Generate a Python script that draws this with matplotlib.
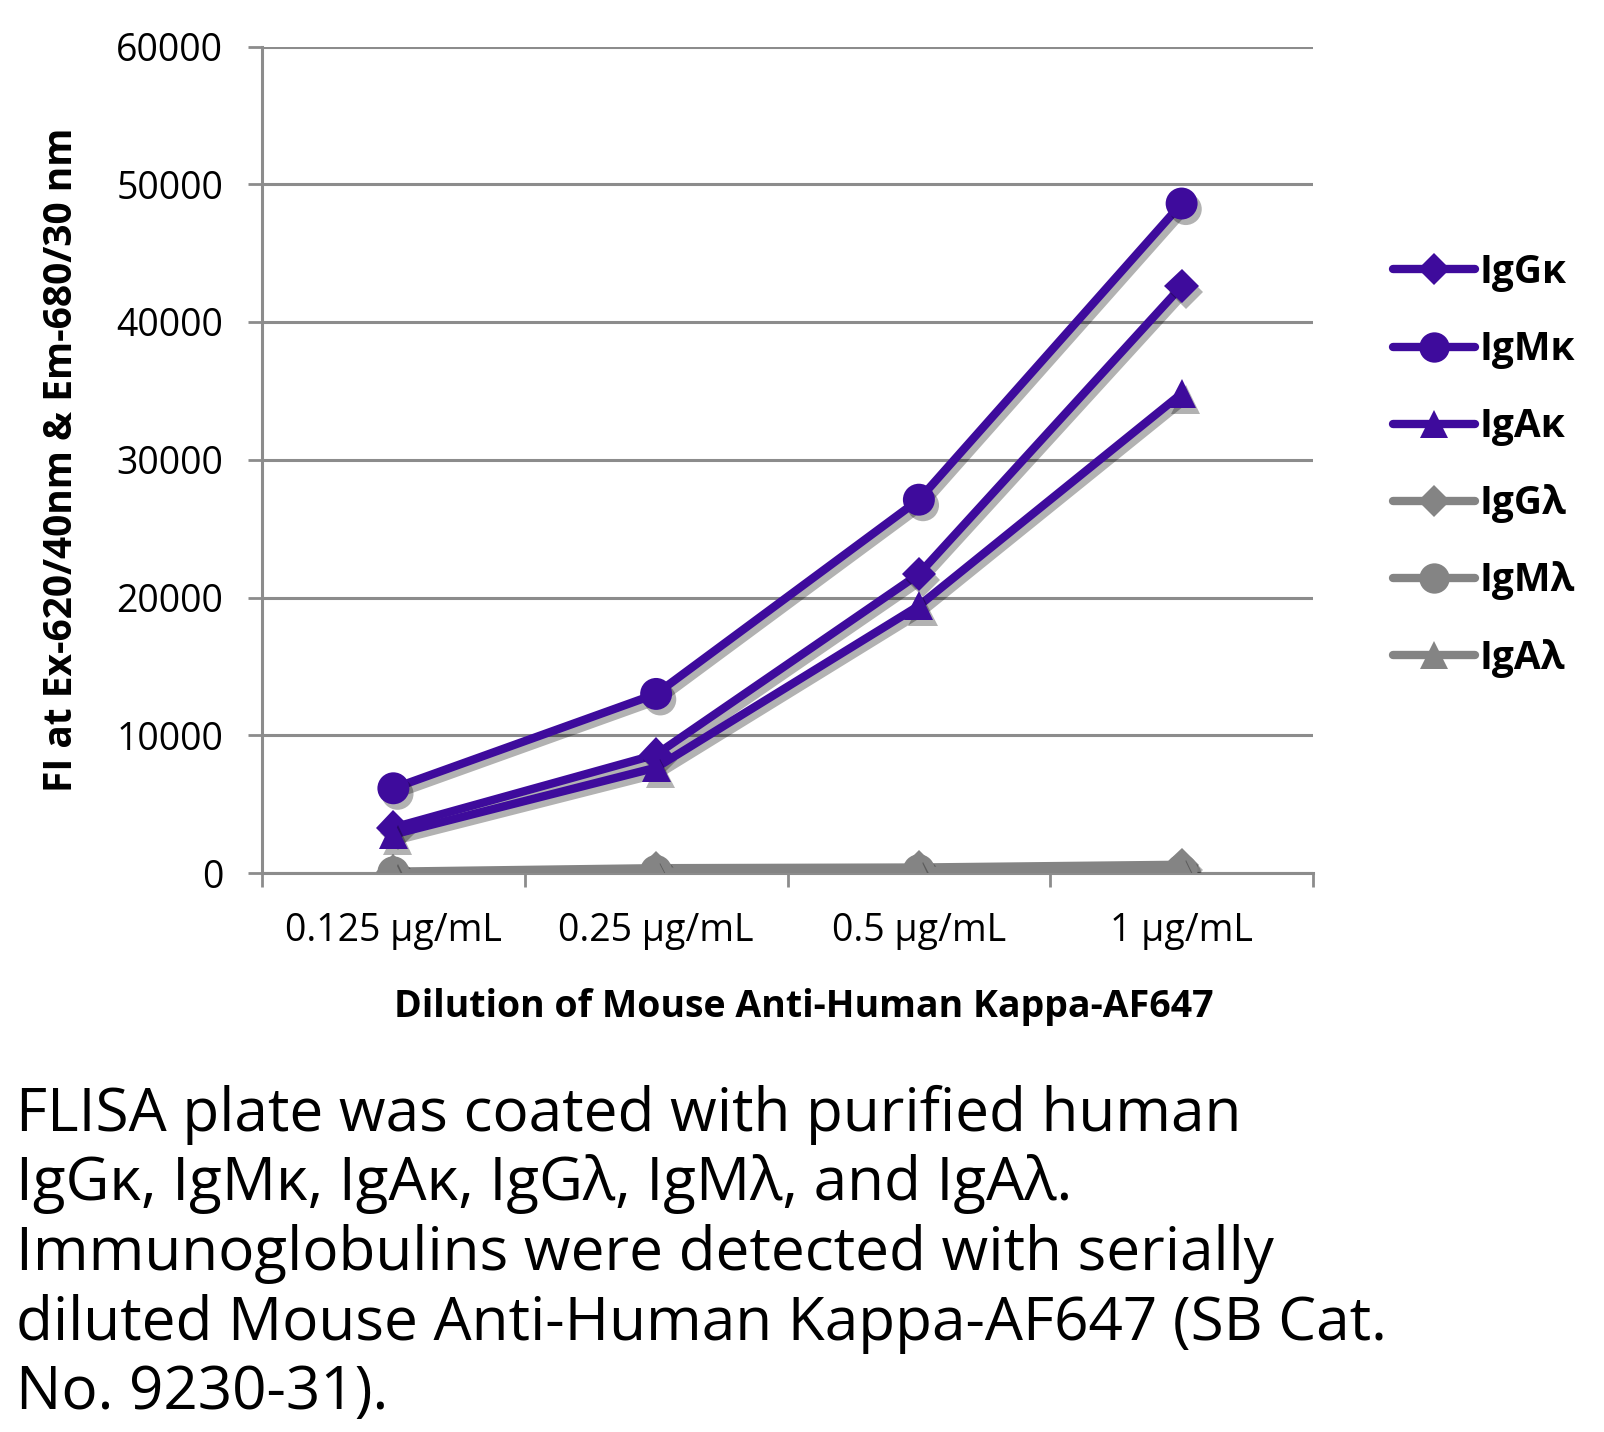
import matplotlib
matplotlib.use("Agg")
import matplotlib.pyplot as plt
import matplotlib.patheffects as pe
from matplotlib.lines import Line2D
import numpy as np

plt.rcParams['font.family'] = ['Open Sans', 'DejaVu Sans']

categories = ['0.125 µg/mL', '0.25 µg/mL', '0.5 µg/mL', '1 µg/mL']
series_names = ['IgGκ', 'IgMκ', 'IgAκ', 'IgGλ', 'IgMλ', 'IgAλ']
igg_k = [3300, 8600, 21700, 42600]
igm_k = [6150, 13000, 27100, 48600]
iga_k = [2800, 7650, 19400, 34800]
igg_l = [100, 350, 400, 600]
igm_l = [50, 150, 200, 200]
iga_l = [0, 100, 150, 300]
values = [igg_k, igm_k, iga_k, igg_l, igm_l, iga_l]
markers = ['D', 'o', '^', 'D', 'o', '^']
msizes = [17.5, 23, 21, 17.5, 23, 21]
purple = '#3E0B9C'
gray = '#848484'
colors = [purple, purple, purple, gray, gray, gray]

y_ticks = [0, 10000, 20000, 30000, 40000, 50000, 60000]
x_label = 'Dilution of Mouse Anti-Human Kappa-AF647'
y_label = 'FI at Ex-620/40nm & Em-680/30 nm'
caption_lines = [
    'FLISA plate was coated with purified human',
    'IgGκ, IgMκ, IgAκ, IgGλ, IgMλ, and IgAλ.',
    'Immunoglobulins were detected with serially',
    'diluted Mouse Anti-Human Kappa-AF647 (SB Cat.',
    'No. 9230-31).',
]

W, H = 1604, 1432
fig = plt.figure(figsize=(W / 100, H / 100), dpi=100)
ax = fig.add_axes([262 / W, 1 - 873 / H, (1313 - 262) / W, (873 - 46.5) / H])

x = np.arange(len(categories))
grid_c = '#8C8C8C'

line_shadow = [pe.SimpleLineShadow(offset=(3, -4), shadow_color='k', alpha=0.3), pe.Normal()]
patch_shadow = [pe.SimplePatchShadow(offset=(3, -4), shadow_rgbFace='k', alpha=0.3), pe.Normal()]

order = [3, 4, 5, 0, 1, 2]
for z, i in enumerate(order):
    ax.plot(x, values[i], color=colors[i], lw=6, solid_capstyle='round',
            solid_joinstyle='round', zorder=3 + z, path_effects=line_shadow)
    ax.plot(x, values[i], linestyle='none', marker=markers[i], markersize=msizes[i],
            color=colors[i], markeredgewidth=0, zorder=3 + z + 0.5,
            path_effects=patch_shadow)

ax.set_xlim(-0.5, len(categories) - 0.5)
ax.set_ylim(0, 60000)
ax.set_yticks(y_ticks)
ax.set_yticklabels([str(v) for v in y_ticks], fontsize=27)
ax.set_xticks(x)
ax.set_xticklabels(categories, fontsize=27)
ax.set_xticks(np.arange(len(categories) + 1) - 0.5, minor=True)
ax.tick_params(axis='x', which='major', length=0, pad=28)
ax.tick_params(axis='x', which='minor', length=10, width=2, color=grid_c, direction='out')
ax.tick_params(axis='y', length=10, width=2, color=grid_c, direction='out', pad=18)
ax.grid(axis='y', color=grid_c, lw=2.2)
ax.set_axisbelow(True)
for s in ['top', 'right']:
    ax.spines[s].set_visible(False)
for s in ['left', 'bottom']:
    ax.spines[s].set_color(grid_c)
    ax.spines[s].set_linewidth(2.2)

fig.text(62 / W, 1 - 460 / H, y_label, fontsize=28, fontweight='bold',
         rotation=90, ha='center', va='center')
fig.text(804 / W, 1 - 1007 / H, x_label, fontsize=27, fontweight='bold',
         ha='center', va='center')

handles = [Line2D([], [], color=colors[i], lw=6, marker=markers[i],
                  markersize=msizes[i] * 0.95, markeredgewidth=0,
                  solid_capstyle='round') for i in range(len(series_names))]
leg = fig.legend(handles, series_names, loc='upper left',
                 bbox_to_anchor=(1393 / W, 1 - 253 / H), frameon=False,
                 prop={'size': 28, 'weight': 'bold'}, handlelength=2.1,
                 handletextpad=0.12, labelspacing=0.98, borderpad=0, borderaxespad=0)

for k, line in enumerate(caption_lines):
    fig.text(16 / W, 1 - (1131 + k * 69.5) / H, line, fontsize=43.4,
             ha='left', va='baseline')

fig.savefig('out.png', dpi=100, facecolor='white')
